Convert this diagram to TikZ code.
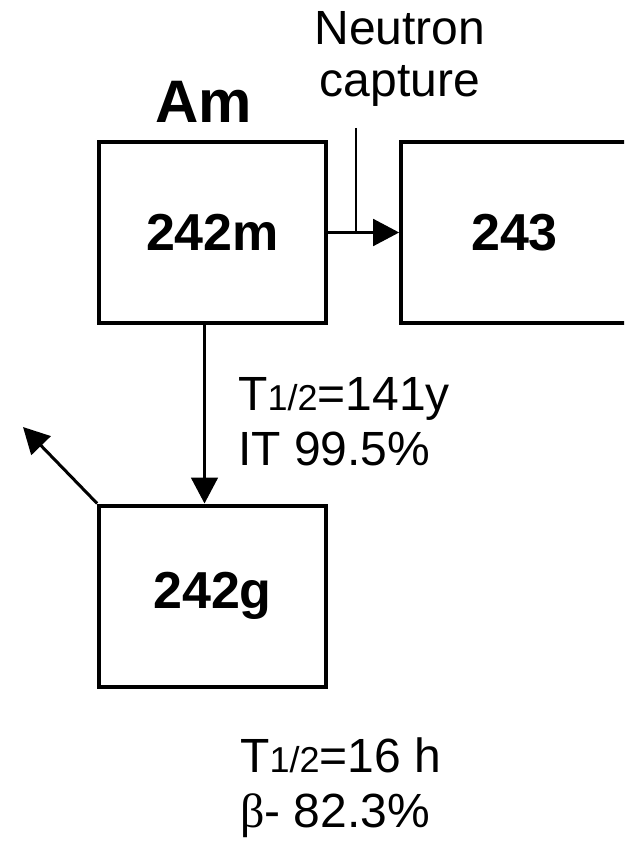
\documentclass[tikz,border=0pt]{standalone}
\usepackage{fontspec}
\setmainfont{Liberation Sans}
\newfontfamily\greekfont{Liberation Serif}
\usetikzlibrary{arrows.meta, positioning}

\begin{document}
\begin{tikzpicture}[x=0.75pt,y=-0.75pt,
    isobox/.style={draw, line width=3pt, minimum width=170pt, minimum height=135.75pt,
        font=\fontsize{39}{44}\selectfont\bfseries},
    label/.style={anchor=base west, inner sep=0pt, font=\fontsize{36}{40}\selectfont},
    decay/.style={line width=2.25pt, -{Triangle[length=19.5pt,width=20pt]}}]
        \clip (0,0) rectangle (624,841);
        \node[isobox] (am242m) at (212.5,232.5) {242m};
        \node[isobox] (am243) at (514.5,232.5) {243};
        \node[isobox] (am242g) at (212.5,596) {242g};
        \node[anchor=base, inner sep=0pt, font=\fontsize{45}{50}\selectfont\bfseries] (elem) at (204,123) {Am};
        \node[anchor=base, inner sep=0pt, font=\fontsize{36}{40}\selectfont] (neutron) at (400,45) {Neutron};
        \node[anchor=base, inner sep=0pt, font=\fontsize{36}{40}\selectfont] (capture) at (400,97) {capture};
        \node[label] (thalf1) at (238,410) {T{\fontsize{27}{30}\selectfont 1/2}=141y};
        \node[label] (branch1) at (238,465) {IT 99.5\%};
        \node[label] (thalf2) at (240,772) {T{\fontsize{27}{30}\selectfont 1/2}=16 h};
        \node[label] (branch2) at (240,827) {{\greekfont β}- 82.3\%};
        \coordinate (capt) at (356,128);
        \coordinate (beta) at (23,427);
        % neutron capture to 243
        \draw[decay] (am242m) -- (am243);
        \draw[line width=1.5pt] (capt) -- (capt |- am242m.east);
        % IT decay and beta decay
        \draw[decay] ([xshift=-6pt]am242m.south) -- ([xshift=-6pt]am242g.north);
        \draw[decay] (am242g.north west) -- (beta);
\end{tikzpicture}
\end{document}
